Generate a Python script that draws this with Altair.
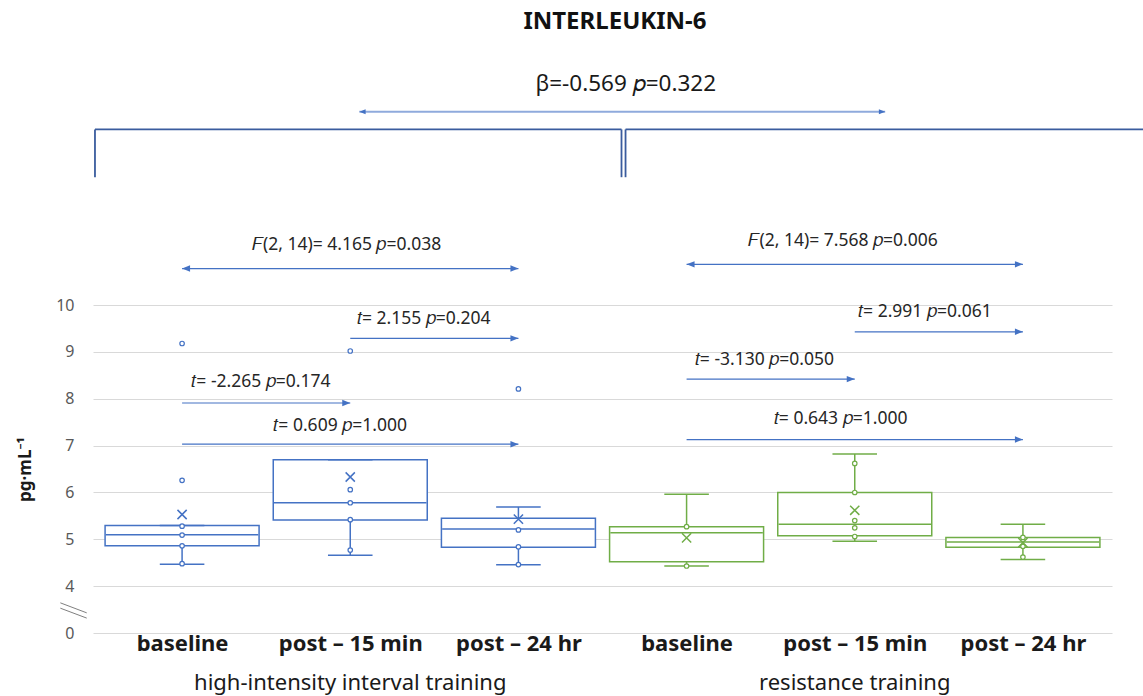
import altair as alt
import pandas as pd

# exercise modes and sampling time points
modes = ["high-intensity interval training", "resistance training"]
timepoints = ["baseline", "post – 15 min", "post – 24 hr"]
mode_colors = ["#4472C4", "#70AD47"]

# box-and-whisker summaries of IL-6 (pg·mL-1), one entry per mode × time point
q1 = [4.86, 5.41, 4.83, 4.52, 5.075, 4.83]
median = [5.095, 5.78, 5.22, 5.14, 5.32, 4.945]
q3 = [5.295, 6.70, 5.45, 5.27, 6.00, 5.04]
whisker_low = [4.47, 4.66, 4.455, 4.43, 4.96, 4.57]
whisker_high = [5.295, 6.70, 5.69, 5.96, 6.82, 5.32]
mean = [5.53, 6.33, 5.43, 5.03, 5.62, 4.93]

# individual values drawn as open circles
points = [
    [9.18, 6.26, 5.28, 5.09, 4.86, 4.48],
    [9.02, 6.06, 5.78, 5.42, 4.77],
    [8.21, 5.20, 4.84, 4.46],
    [5.27, 4.43],
    [6.62, 6.00, 5.40, 5.245, 5.06],
    [5.04, 4.85, 4.62],
]

# y axis: broken scale, the bottom gridline stands for 0
y_ticks = [3, 4, 5, 6, 7, 8, 9, 10]
y_tick_labels = ["0", "4", "5", "6", "7", "8", "9", "10"]

# pairwise / omnibus statistics: label, from slot, to slot, arrow level, label level, label centre, two-headed
stat_labels = [
    "𝐹(2, 14)= 4.165 𝑝=0.038", "𝑡= 2.155 𝑝=0.204", "𝑡= -2.265 𝑝=0.174", "𝑡= 0.609 𝑝=1.000",
    "𝐹(2, 14)= 7.568 𝑝=0.006", "𝑡= 2.991 𝑝=0.061", "𝑡= -3.130 𝑝=0.050", "𝑡= 0.643 𝑝=1.000",
]
stat_from = [0, 1, 0, 0, 3, 4, 3, 3]
stat_to = [2, 2, 1, 2, 5, 5, 4, 5]
stat_arrow_y = [10.78, 9.29, 7.91, 7.03, 10.87, 9.43, 8.42, 7.13]
stat_text_y = [11.28, 9.70, 8.36, 7.42, 11.37, 9.86, 8.83, 7.56]
stat_text_x = [0.978, 1.437, 0.469, 0.94, 3.931, 4.417, 3.463, 3.916]
stat_double = [True, False, False, False, True, False, False, False]

title_text = "INTERLEUKIN-6"
between_text = "β=-0.569 𝑝=0.322"

FONT = "Noto Sans"
BLUE = "#4472C4"

slots = list(range(6))
box_df = pd.DataFrame({
    "pos": slots,
    "mode": [modes[i // 3] for i in slots],
    "q1": q1, "median": median, "q3": q3,
    "wlo": whisker_low, "whi": whisker_high, "mean": mean,
})
pts_df = pd.DataFrame(
    [{"pos": i, "mode": modes[i // 3], "value": v} for i in slots for v in points[i]]
)
stat_df = pd.DataFrame({
    "label": stat_labels, "x0": stat_from, "x1": stat_to,
    "ya": stat_arrow_y, "yt": stat_text_y, "xt": stat_text_x, "double": stat_double,
})
group_df = pd.DataFrame({"mode": modes, "pos": [1, 4], "y": [1.93, 1.93]})

x_scale = alt.Scale(domain=[-0.5, 5.5], range=[1, 1020], nice=False, zero=False)
y_scale = alt.Scale(domain=[3, 16.513], nice=False, zero=False)
color_scale = alt.Scale(domain=modes, range=mode_colors)

label_array = "[" + ",".join("'%s'" % t for t in timepoints * 2) + "]"
x_axis = alt.Axis(
    values=slots, labelExpr=label_array + "[datum.value]", title=None,
    grid=False, domain=False, ticks=False, labelFont=FONT, labelFontSize=22,
    labelFontWeight="bold", labelColor="#1a1a1a", labelPadding=0,
)
tick_map = "{" + ",".join("'%d':'%s'" % (v, l) for v, l in zip(y_ticks, y_tick_labels)) + "}"
y_axis = alt.Axis(
    values=y_ticks, labelExpr=tick_map + "[datum.value + '']", title="pg·mL⁻¹",
    grid=True, gridColor="#d9d9d9", gridWidth=1, domain=False, ticks=False,
    labelFont=FONT, labelFontSize=16, labelColor="#595959", labelPadding=18,
    titleFont=FONT, titleFontSize=17, titleFontWeight="bold", titleColor="#1a1a1a",
    titleX=-67, titleY=469, titleAngle=270, titleAlign="center", titleBaseline="middle",
)

stroke = alt.Stroke("mode:N", scale=color_scale, legend=None)

def xq(field):
    return alt.X(field, type="quantitative", scale=x_scale, axis=x_axis)

def yq(field):
    return alt.Y(field, type="quantitative", scale=y_scale, axis=y_axis)

base = alt.Chart(box_df)

boxes = base.mark_bar(size=154, fill="white", strokeWidth=1.5).encode(
    x=xq("pos"), y=yq("q1"), y2="q3:Q", stroke=stroke
)
whisk_lo = base.mark_rule(strokeWidth=1.5).encode(x=xq("pos"), y=yq("wlo"), y2="q1:Q", stroke=stroke)
whisk_hi = base.mark_rule(strokeWidth=1.5).encode(x=xq("pos"), y=yq("q3"), y2="whi:Q", stroke=stroke)
caps = base.transform_calculate(
    cl="datum.pos - 0.1325", cr="datum.pos + 0.1325"
).transform_fold(["wlo", "whi"], as_=["end", "level"])
cap_rules = caps.mark_rule(strokeWidth=1.5).encode(
    x=xq("cl"), x2="cr:Q", y=yq("level"), stroke=stroke
)
medians = base.transform_calculate(
    ml="datum.pos - 0.4534", mr="datum.pos + 0.4534"
).mark_rule(strokeWidth=1.5).encode(x=xq("ml"), x2="mr:Q", y=yq("median"), stroke=stroke)
dots = alt.Chart(pts_df).mark_point(
    shape="circle", size=20, fill="white", filled=False, strokeWidth=1.2, opacity=1
).encode(x=xq("pos"), y=yq("value"), stroke=stroke)
means = base.mark_point(
    shape="M-1,-1L1,1M-1,1L1,-1", size=85, strokeWidth=1.5, filled=False, opacity=1
).encode(x=xq("pos"), y=yq("mean"), stroke=stroke)

# statistic arrows and labels
sbase = alt.Chart(stat_df)
arrow_lines = sbase.mark_rule(color=BLUE, strokeWidth=1.2).encode(
    x=xq("x0"), x2="x1:Q", y=yq("ya")
)
head_right = sbase.mark_point(
    shape="M0,0L-2,-0.8L-2,0.8Z", size=64, filled=True, color=BLUE, opacity=1
).encode(x=xq("x1"), y=yq("ya"))
head_left = sbase.transform_filter("datum.double").mark_point(
    shape="M0,0L2,-0.8L2,0.8Z", size=64, filled=True, color=BLUE, opacity=1
).encode(x=xq("x0"), y=yq("ya"))
stat_text = sbase.mark_text(font=FONT, fontSize=17.5, color="#262626", align="center", baseline="middle").encode(
    x=xq("xt"), y=yq("yt"), text="label:N"
)

# mode comparison above both groups
top_df = pd.DataFrame({
    "x0": [1.054], "x1": [4.181], "y": [14.127],
    "tx": [2.638], "ty": [14.72], "label": [between_text],
    "hx": [2.574], "hy": [16.04], "title": [title_text],
})
tbase = alt.Chart(top_df)
top_line = tbase.mark_rule(color="#8FAADC", strokeWidth=2.2).encode(x=xq("x0"), x2="x1:Q", y=yq("y"))
top_head_r = tbase.mark_point(shape="M0,0L-2,-0.8L-2,0.8Z", size=40, filled=True, color=BLUE, opacity=1).encode(
    x=xq("x1"), y=yq("y"))
top_head_l = tbase.mark_point(shape="M0,0L2,-0.8L2,0.8Z", size=40, filled=True, color=BLUE, opacity=1).encode(
    x=xq("x0"), y=yq("y"))
top_text = tbase.mark_text(font=FONT, fontSize=22.5, color="#1a1a1a", align="center", baseline="middle").encode(
    x=xq("tx"), y=yq("ty"), text="label:N")
title_mark = tbase.mark_text(font=FONT, fontSize=24, fontWeight="bold", color="#111111",
                             align="center", baseline="middle").encode(
    x=xq("hx"), y=yq("hy"), text="title:N")

# brackets grouping the two modes
bracket_df = pd.DataFrame({
    "xl": [-0.518, 2.637], "xr": [2.613, 5.72], "top": [13.75, 13.75], "bottom": [12.73, 12.73],
})
bbase = alt.Chart(bracket_df)
BR = "#3A5C9E"
br_top = bbase.mark_rule(color=BR, strokeWidth=1.8).encode(x=xq("xl"), x2="xr:Q", y=yq("top"))
br_left = bbase.mark_rule(color=BR, strokeWidth=1.8).encode(x=xq("xl"), y=yq("top"), y2="bottom:Q")
br_right = bbase.transform_filter("datum.xr < 5").mark_rule(color=BR, strokeWidth=1.8).encode(
    x=xq("xr"), y=yq("top"), y2="bottom:Q")

# axis break marker
break_df = pd.DataFrame({"x0": [-0.724, -0.724], "x1": [-0.567, -0.567],
                         "y0": [3.644, 3.53], "y1": [3.43, 3.318]})
break_marks = alt.Chart(break_df).mark_rule(color="#808080", strokeWidth=1).encode(
    x=xq("x0"), x2="x1:Q", y=yq("y0"), y2="y1:Q")

group_text = alt.Chart(group_df).mark_text(
    font=FONT, fontSize=22, color="#1a1a1a", align="center", baseline="middle"
).encode(x=xq("pos"), y=yq("y"), text="mode:N")

chart = alt.layer(
    boxes, whisk_lo, whisk_hi, cap_rules, medians, dots, means,
    arrow_lines, head_right, head_left, stat_text,
    top_line, top_head_r, top_head_l, top_text, title_mark,
    br_top, br_left, br_right, break_marks, group_text,
).properties(
    width=1030, height=633,
    autosize=alt.AutoSizeParams(type="none"),
    padding={"left": 92, "right": 21, "top": 0, "bottom": 63},
    background="white",
).configure_view(stroke=None)

chart.save("out.html", embed_options={"renderer": "svg", "actions": False})
